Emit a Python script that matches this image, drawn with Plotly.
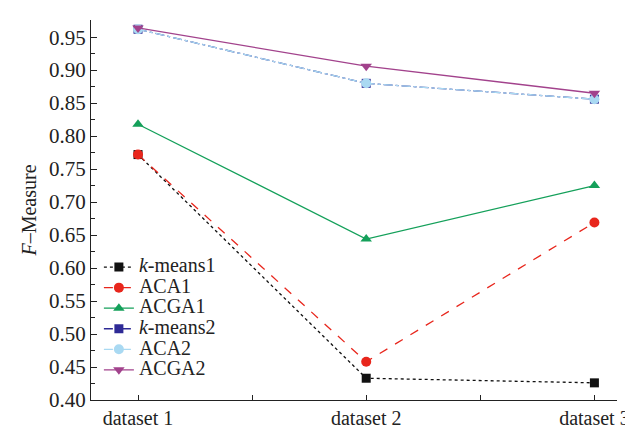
import plotly.graph_objects as go

categories = ["dataset 1", "dataset 2", "dataset 3"]
kmeans1 = [0.772, 0.433, 0.426]
aca1 = [0.772, 0.458, 0.669]
acga1 = [0.818, 0.644, 0.725]
kmeans2 = [0.962, 0.880, 0.856]
aca2 = [0.962, 0.880, 0.856]
acga2 = [0.964, 0.906, 0.865]
y_ticks = [0.40, 0.45, 0.50, 0.55, 0.60, 0.65, 0.70, 0.75, 0.80, 0.85, 0.90, 0.95]

series = [
    ("<i>k</i>-means1", kmeans1, "#111111", "dot", "square", 9),
    ("ACA1", aca1, "#e8261c", "dash", "circle", 10),
    ("ACGA1", acga1, "#14a05a", "solid", "triangle-up", 10),
    ("<i>k</i>-means2", kmeans2, "#2e2a96", "dashdot", "square", 9),
    ("ACA2", aca2, "#a9d9f2", "dashdot", "circle", 10),
    ("ACGA2", acga2, "#a2428c", "solid", "triangle-down", 10),
]

xi = list(range(len(categories)))
fig = go.Figure()
for name, vals, color, dash, sym, size in series:
    fig.add_trace(go.Scatter(
        x=xi, y=vals, mode="lines+markers",
        name='<span style="font-size:20px">' + name + "</span>",
        line=dict(color=color, dash=dash, width=1.3),
        marker=dict(color=color, symbol=sym, size=size),
    ))

font = '"Liberation Serif", "DejaVu Serif", serif'
fig.update_layout(
    width=633, height=433,
    margin=dict(l=83, r=14, t=12, b=25),
    paper_bgcolor="white", plot_bgcolor="white",
    font=dict(family=font, size=20, color="#222"),
    showlegend=True,
    legend=dict(x=0.015, y=0.39, xanchor="left", yanchor="top",
                bgcolor="rgba(0,0,0,0)", font=dict(size=13.5, family=font, color="#222"),
                tracegroupgap=0),
)
fig.update_xaxes(
    range=[-0.206, 2.099], tickmode="array", tickvals=xi, ticktext=categories,
    ticks="inside", ticklen=5, tickcolor="#222", showline=True, linecolor="#222",
    linewidth=1.2, showgrid=False, zeroline=False,
    minor=dict(tickvals=[0.5, 1.5], ticks="inside", ticklen=5, tickcolor="#222"),
    tickfont=dict(size=20, family=font),
)
fig.update_yaxes(
    range=[0.40, 0.976], tickmode="array", tickvals=y_ticks,
    tickformat=".2f",
    ticks="inside", ticklen=6, tickcolor="#222", showline=True, linecolor="#222",
    linewidth=1.2, showgrid=False, zeroline=False,
    minor=dict(dtick=0.025, tick0=0.4, ticks="inside", ticklen=4, tickcolor="#222"),
    tickfont=dict(size=21, family=font),
    title=dict(text="<i>F</i>\u2013Measure", font=dict(size=20, family=font), standoff=6),
)
fig.write_html("out.html")
